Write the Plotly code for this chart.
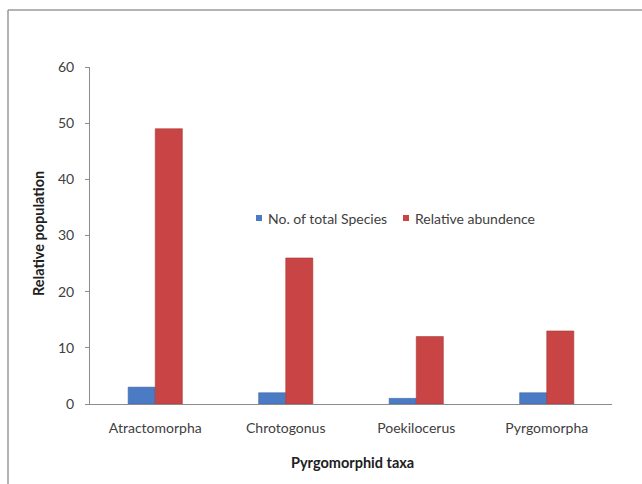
import plotly.graph_objects as go

# Pyrgomorphid taxa and their counts
taxa = ["Atractomorpha", "Chrotogonus", "Poekilocerus", "Pyrgomorpha"]
total_species = [3, 2, 1, 2]
relative_abundance = [49, 26, 12, 13]
series_names = ["No. of total Species", "Relative abundence"]
series_colors = ["#4A7BC4", "#C94545"]
series_edges = ["#3A64A0", "#A83535"]

W, H = 642, 484
L, R, T, B = 90, 30, 67, 80
pw, ph = W - L - R, H - T - B

font_main = "Lato, 'Open Sans', sans-serif"


def px_x(p):
    return (p - L) / pw


def px_y(p):
    return 1 - (p - T) / ph


fig = go.Figure()
for vals, name, col, edge in zip([total_species, relative_abundance],
                                 series_names, series_colors, series_edges):
    fig.add_trace(go.Bar(
        x=taxa, y=vals, name=name, showlegend=False,
        marker=dict(color=col, line=dict(color=edge, width=0.6)),
    ))

# compact legend: small square keys followed by the series names
legend_y = 218
legend_keys = [256, 403]
shapes = []
annotations = []
for kx, name, col in zip(legend_keys, series_names, series_colors):
    shapes.append(dict(type="rect", xref="paper", yref="paper",
                       x0=px_x(kx), x1=px_x(kx + 6),
                       y0=px_y(legend_y + 3), y1=px_y(legend_y - 3),
                       fillcolor=col, line=dict(width=0)))
    annotations.append(dict(text=name, xref="paper", yref="paper",
                            x=px_x(kx + 10), y=px_y(legend_y),
                            xanchor="left", yanchor="middle", showarrow=False,
                            font=dict(size=14, color="#404040")))

# outer chart frame (left and top edges)
shapes += [
    dict(type="line", xref="paper", yref="paper",
         x0=px_x(8), x1=px_x(8), y0=px_y(H + 5), y1=px_y(10),
         line=dict(color="#9A9A9A", width=1.5)),
    dict(type="line", xref="paper", yref="paper",
         x0=px_x(8), x1=px_x(W + 5), y0=px_y(10), y1=px_y(10),
         line=dict(color="#9A9A9A", width=1.5)),
]

annotations += [
    dict(text="<b>Relative population</b>", xref="paper", yref="paper",
         x=px_x(38), y=px_y(234), textangle=-90,
         showarrow=False, font=dict(size=14.5, color="#202020"),
         xanchor="center", yanchor="middle"),
    dict(text="<b>Pyrgomorphid taxa</b>", xref="paper", yref="paper",
         x=px_x(352), y=px_y(462),
         showarrow=False, font=dict(size=14.5, color="#202020"),
         xanchor="center", yanchor="middle"),
]

fig.update_layout(
    width=W, height=H,
    margin=dict(l=L, r=R, t=T, b=B),
    paper_bgcolor="white", plot_bgcolor="white",
    barmode="group", bargap=0.585, bargroupgap=0,
    font=dict(family=font_main, size=14, color="#404040"),
    showlegend=False,
    xaxis=dict(
        showline=True, linecolor="#8C8C8C", linewidth=1,
        ticks="", showgrid=False, ticklabelstandoff=11,
        tickfont=dict(size=14, color="#404040"),
    ),
    yaxis=dict(
        range=[0, 60], dtick=10, showline=True, linecolor="#8C8C8C", linewidth=1,
        ticks="outside", ticklen=4, tickcolor="#8C8C8C", showgrid=False,
        zeroline=False, ticklabelstandoff=8,
        tickfont=dict(size=14, color="#404040"),
    ),
    shapes=shapes,
    annotations=annotations,
)

fig.write_html("out.html")
